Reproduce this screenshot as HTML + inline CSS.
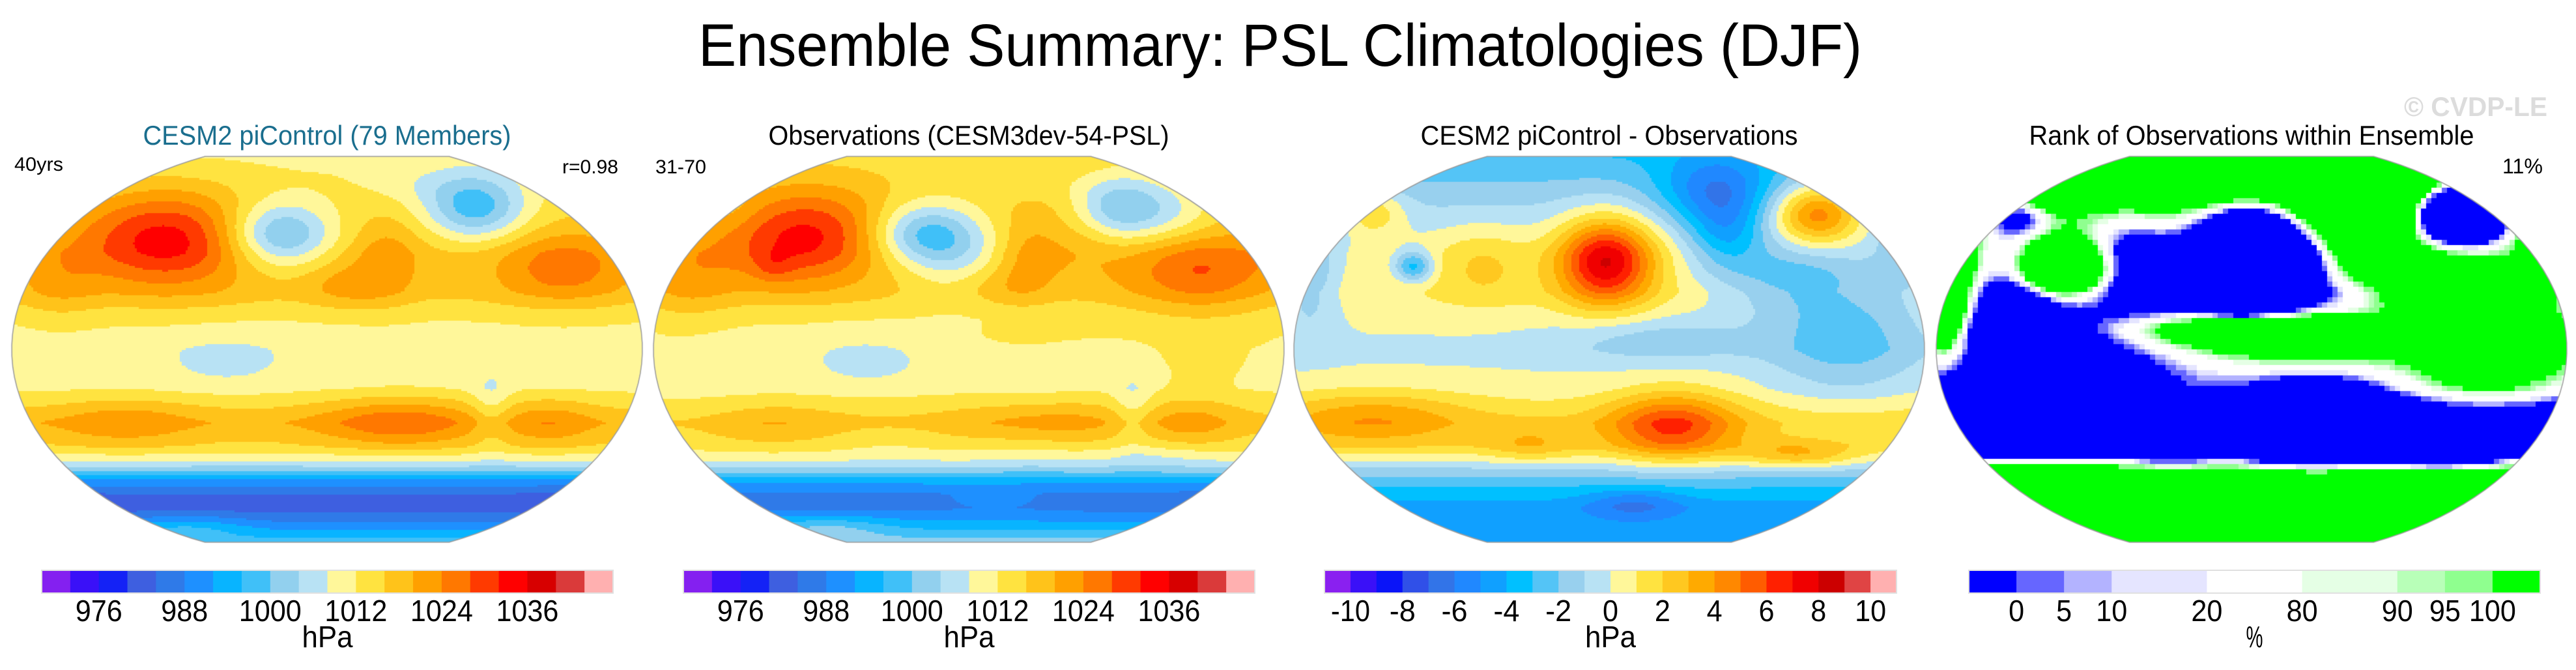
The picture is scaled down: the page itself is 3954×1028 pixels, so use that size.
<!DOCTYPE html>
<html><head><meta charset="utf-8"><title>Ensemble Summary: PSL Climatologies (DJF)</title>
<style>
html,body{margin:0;padding:0;background:#fff;}
#wrap{position:relative;width:3954px;height:1028px;overflow:hidden;font-family:"Liberation Sans",sans-serif;}
canvas,svg{position:absolute;left:0;top:0;}
</style></head>
<body>
<div id="wrap">
<canvas id="cv" width="3954" height="1028"></canvas>
<svg id="ov" width="3954" height="1028" xmlns="http://www.w3.org/2000/svg">
<text x="1965" y="101" font-size="92" text-anchor="middle" textLength="1786" lengthAdjust="spacingAndGlyphs" font-family="Liberation Sans, sans-serif">Ensemble Summary: PSL Climatologies (DJF)</text>
<text x="3800" y="178" font-size="42" font-weight="bold" text-anchor="middle" fill="#dcdcdc" textLength="220" lengthAdjust="spacingAndGlyphs" font-family="Liberation Sans, sans-serif">© CVDP-LE</text>
<text x="502" y="222" font-size="42" text-anchor="middle" fill="#1a6e8e" textLength="565" lengthAdjust="spacingAndGlyphs">CESM2 piControl (79 Members)</text>
<text x="22" y="262" font-size="30" textLength="75" lengthAdjust="spacingAndGlyphs">40yrs</text>
<text x="949" y="266" font-size="30" text-anchor="end" textLength="86" lengthAdjust="spacingAndGlyphs">r=0.98</text>
<text x="1487" y="222" font-size="42" text-anchor="middle" textLength="615" lengthAdjust="spacingAndGlyphs">Observations (CESM3dev-54-PSL)</text>
<text x="1006" y="266" font-size="30" textLength="78" lengthAdjust="spacingAndGlyphs">31-70</text>
<text x="2470" y="222" font-size="42" text-anchor="middle" textLength="579" lengthAdjust="spacingAndGlyphs">CESM2 piControl - Observations</text>
<text x="3456" y="222" font-size="42" text-anchor="middle" textLength="683" lengthAdjust="spacingAndGlyphs">Rank of Observations within Ensemble</text>
<text x="3903" y="266" font-size="32" text-anchor="end" textLength="62" lengthAdjust="spacingAndGlyphs">11%</text>
<g id="bars"></g>
</svg>
</div>
<script>
// ---------- data ----------
const pslBounds = [972,976,980,984,988,992,996,1000,1004,1008,1012,1016,1020,1024,1028,1032,1036,1040,1044];
const pslTicks = [976,988,1000,1012,1024,1036];
const pslColors = ["#8420f0","#3a10f8","#1422f6","#3e5fe0","#2f7ae8","#1e90ff","#08b4ff","#40c0f8","#92d0ee","#b8e2f4","#fff79a","#ffe340","#ffc31a","#ffa000","#ff7800","#ff3a00","#ff0000","#d70000","#da3a3a","#ffb0b0"];
const diffBounds = [-10,-9,-8,-7,-6,-5,-4,-3,-2,-1,0,1,2,3,4,5,6,7,8,9,10];
const diffTicks = [-10,-8,-6,-4,-2,0,2,4,6,8,10];
const diffColors = ["#8a20f0","#3a10f8","#0a14f8","#3050e8","#3274e8","#2088ff","#10a0ff","#00c0ff","#54c4f6","#98d0ee","#b8e2f4","#fff79a","#ffe340","#ffc820","#ffaa00","#ff8800","#ff5c00","#ff2000","#f00000","#cc0000","#e04444","#ffb0b0"];
const rankBounds = [0,5,10,20,80,90,95,100];
const rankTicks = [0,5,10,20,80,90,95,100];
const rankColors = ["#0000ff","#6666ff","#b3b3ff","#e5e5ff","#ffffff","#e5ffe5","#b8ffb8","#8fff8f","#00ff00"];

// zonal base profile of model PSL (normalized latitude v, hPa)
const baseLat = [1,0.8,0.5,0.3,0.15,0,-0.2,-0.38,-0.5,-0.57,-0.62,-0.68,-0.75,-0.82,-0.9,-1];
const modelBase = [1011,1014,1018,1017,1012,1010,1011,1019,1015,1009,1002,991,984,982,988,998];
// model anomaly features
const modelU = [-0.51,-0.15,0.47,0.07,0.75,0.19,-0.64,0.23,0.71,-0.32,0.52,-0.95,0.85,-0.45,-0.85,0.3];
const modelV = [0.58,0.59,0.73,0.33,0.42,0.47,-0.38,-0.38,-0.38,-0.06,-0.3,-0.8,-0.8,-0.92,0.35,0.85];
const modelAmp = [17,-19,-17,5,9,5,5,9,5,-4,-5,-4,-4,6,4,-3];
const modelSx = [0.28,0.17,0.16,0.14,0.2,0.1,0.22,0.25,0.14,0.2,0.06,0.15,0.15,0.2,0.12,0.2];
const modelSy = [0.25,0.17,0.17,0.12,0.18,0.2,0.13,0.13,0.13,0.13,0.2,0.08,0.08,0.06,0.2,0.1];
// difference (model - obs) base profile and features
const diffBase = [-3,-1.5,0.5,1,0.3,-0.3,0.3,2,1.5,0,-1.2,-2.5,-3.5,-4.5,-4.5,-4];
const diffU = [-0.01,0.34,0.37,0.66,-0.62,-0.4,-0.75,0.2,-0.75,0.6,0.75,0.15,0.08,-0.25,0.95,0.55,-0.95];
const diffV = [0.46,0.82,0.6,0.7,0.43,0.45,0.72,-0.4,-0.35,-0.55,0.1,0.05,-0.8,-0.5,0.5,0.4,0.4];
const diffAmp = [7.5,-4,-3,5.5,-4,1.5,2.5,4.5,2.2,2.5,-2.5,-1.5,-2,1.5,-2,-2.5,-2.5];
const diffSx = [0.15,0.18,0.12,0.14,0.06,0.15,0.1,0.2,0.3,0.18,0.25,0.3,0.15,0.15,0.1,0.25,0.1];
const diffSy = [0.22,0.18,0.18,0.16,0.08,0.2,0.12,0.18,0.15,0.07,0.35,0.12,0.08,0.1,0.2,0.2,0.3];
// rank adjustment (ensemble-spread effects) features
const rankU = [-0.58,-0.97,-0.6,0.05,-0.15,-0.75,-0.75];
const rankV = [0.42,0.3,-0.1,0.1,0.9,0.8,0.1];
const rankAmp = [4.5,4,-2,3,1.5,2,-2.5];
const rankSx = [0.15,0.05,0.3,0.35,0.2,0.15,0.15];
const rankSy = [0.15,0.22,0.2,0.07,0.12,0.1,0.2];

// ---------- geometry ----------
const CY = 536, HALFH = 296, RX = 484, RY = 321;
const panelCX = [502,1487,2470,3456];
const barX0 = [64,1049,2033,3022], barX1 = [941,1926,2911,3899];
const BAR_Y = 875, BAR_H = 35;

function interp(v, xs, ys){
  if (v >= xs[0]) return ys[0];
  for (let i=1;i<xs.length;i++){ if (v >= xs[i]){ const t=(v-xs[i])/(xs[i-1]-xs[i]); return ys[i]+t*(ys[i-1]-ys[i]); } }
  return ys[ys.length-1];
}
function blobs(u,v,U,V,A,SX,SY){
  let s=0; for(let i=0;i<U.length;i++){ const du=(u-U[i])/SX[i], dv=(v-V[i])/SY[i]; s+=A[i]*Math.exp(-(du*du+dv*dv)); } return s;
}
function model(u,v){ return interp(v,baseLat,modelBase)+blobs(u,v,modelU,modelV,modelAmp,modelSx,modelSy); }
function diff(u,v){ return interp(v,baseLat,diffBase)+blobs(u,v,diffU,diffV,diffAmp,diffSx,diffSy); }
function obs(u,v){ return model(u,v)-diff(u,v); }
function rank(u,v){ const d = diff(u,v)-blobs(u,v,rankU,rankV,rankAmp,rankSx,rankSy); return 108/(1+Math.exp(5*(d+0.1)))-4; }
function bin(val,bounds){ let i=0; while(i<bounds.length && val>=bounds[i]) i++; return i; }

const fields = [model, obs, diff, rank];
const boundsList = [pslBounds,pslBounds,diffBounds,rankBounds];
const colorsList = [pslColors,pslColors,diffColors,rankColors];
const cellSize = [3,3,3,8];

const ctx = document.getElementById('cv').getContext('2d');
function mapPath(cx){
  const p = new Path2D();
  const hwTop = RX*Math.sqrt(1-(HALFH/RY)*(HALFH/RY));
  const a = Math.asin(HALFH/RY);
  p.moveTo(cx-hwTop, CY-HALFH);
  p.lineTo(cx+hwTop, CY-HALFH);
  p.ellipse(cx,CY,RX,RY,0,-a,a,false);
  p.lineTo(cx-hwTop, CY+HALFH);
  p.ellipse(cx,CY,RX,RY,0,Math.PI-a,Math.PI+a,false);
  p.closePath();
  return p;
}
for (let k=0;k<4;k++){
  const cx = panelCX[k], f = fields[k], B = boundsList[k], C = colorsList[k], cs = cellSize[k];
  ctx.save();
  const path = mapPath(cx);
  ctx.clip(path);
  for (let y=CY-HALFH; y<CY+HALFH; y+=cs){
    const v = (CY-(y+cs/2))/HALFH;
    for (let x=cx-RX; x<cx+RX; x+=cs){
      const u = ((x+cs/2)-cx)/RX;
      ctx.fillStyle = C[bin(f(u,v),B)];
      ctx.fillRect(x,y,cs+0.5,cs+0.5);
    }
  }
  ctx.restore();
  ctx.strokeStyle = "#9a9a9a"; ctx.lineWidth = 1.5; ctx.stroke(path);
}

// ---------- colorbars ----------
const NS = "http://www.w3.org/2000/svg";
const g = document.getElementById('bars');
function mk(tag, attrs){ const e=document.createElementNS(NS,tag); for(const a in attrs) e.setAttribute(a,attrs[a]); return e; }
function drawBar(k, bounds, colors, ticks, unit, uneven){
  const x0=barX0[k], x1=barX1[k];
  const n = colors.length, w = (x1-x0);
  let edges=[];
  if (uneven){
    const rel=[1,1,1,2,2,2,1,1,1]; const tot=rel.reduce((a,b)=>a+b,0); let acc=x0; edges.push(acc);
    for(const r of rel){ acc+=w*r/tot; edges.push(acc); }
  } else { for(let i=0;i<=n;i++) edges.push(x0+w*i/n); }
  for(let i=0;i<n;i++){
    const r = mk('rect',{x:edges[i],y:BAR_Y,width:edges[i+1]-edges[i]+0.5,height:BAR_H,fill:colors[i]});
    
    
    g.appendChild(r);
  }
  const o = mk('rect',{x:x0,y:BAR_Y,width:w,height:BAR_H,fill:'none',stroke:'#e0e0e0','stroke-width':2});
  
  
  g.appendChild(o);
  for(const t of ticks){
    const idx = bounds.indexOf(t);
    const tx = edges[idx+1];
    const lab = String(t);
    const tl = mk('text',{x:tx,y:953,'font-size':46,'text-anchor':'middle','font-family':'Liberation Sans, sans-serif',textLength:lab.length*(lab[0]==='-'?20:24),lengthAdjust:'spacingAndGlyphs'});
    tl.textContent = lab;
    
    
    g.appendChild(tl);
  }
  const ul = mk('text',{x:(x0+x1)/2,y:993,'font-size':46,'text-anchor':'middle','font-family':'Liberation Sans, sans-serif',textLength:unit.length*26,lengthAdjust:'spacingAndGlyphs'});
  ul.textContent = unit;
  
  
  g.appendChild(ul);
}
drawBar(0,pslBounds,pslColors,pslTicks,'hPa',false);
drawBar(1,pslBounds,pslColors,pslTicks,'hPa',false);
drawBar(2,diffBounds,diffColors,diffTicks,'hPa',false);
drawBar(3,rankBounds,rankColors,rankTicks,'%',true);
</script>
</body></html>
